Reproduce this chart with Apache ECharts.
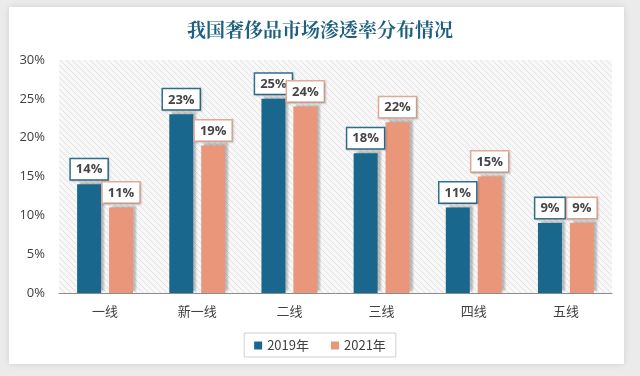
<!DOCTYPE html>
<html><head><meta charset="utf-8">
<script src="https://cdn.jsdelivr.net/npm/echarts@6/dist/echarts.min.js"></script>
<style>html,body{margin:0;padding:0;background:#ebebeb;}#c{width:640px;height:376px;}</style>
</head><body><div id="c"></div>
<script>
var categories = ['一线','新一线','二线','三线','四线','五线'];
var s2019 = [14,23,25,18,11,9];
var s2021 = [11,19,24,22,15,9];
var yTicks = [0,5,10,15,20,25,30];

function hatch(bg, line, size){
  var c = document.createElement('canvas'); c.width=size; c.height=size;
  var g = c.getContext('2d');
  g.fillStyle=bg; g.fillRect(0,0,size,size);
  g.strokeStyle=line; g.lineWidth=1;
  g.beginPath();
  g.moveTo(0,0); g.lineTo(size,size);
  g.moveTo(-size,0); g.lineTo(size,size*2);
  g.moveTo(0,-size); g.lineTo(size*2,size);
  g.stroke();
  return c;
}
var chart = echarts.init(document.getElementById('c'));
var font = '"Noto Sans CJK SC", "Noto Sans", sans-serif';
function lbl(border){
  return {show:true, position:'top', distance:5, formatter:'{c}%', color:'#454545', fontSize:13, fontWeight:'bold', fontFamily:'"Open Sans", "Noto Sans", sans-serif',
    backgroundColor:'#fff', borderColor:border, borderWidth:1.5, padding:[4,5,3,5],
    shadowColor:'rgba(0,0,0,0.15)', shadowBlur:2, shadowOffsetX:1, shadowOffsetY:1};
}
chart.setOption({
  backgroundColor:'#ebebeb',
  animation:false,
  graphic:[{type:'rect', shape:{x:9,y:7,width:615,height:357}, style:{fill:'#fff', shadowColor:'rgba(0,0,0,0.12)', shadowBlur:6}, z:-10}],
  title:{text:'我国奢侈品市场渗透率分布情况', left:'center', top:15, textStyle:{color:'#1f5f80', fontSize:19, fontWeight:'bold', fontFamily:'"Noto Serif CJK SC", "Noto Sans CJK SC", serif'}},
  grid:{left:59, right:28, top:60, bottom:83, show:true, borderWidth:0, backgroundColor:{image:hatch('#f8f8f8','#e2e2e2',6), repeat:'repeat'}},
  legend:{bottom:19, left:'center', itemWidth:8, itemHeight:8, itemGap:22, icon:'rect', borderColor:'#d0d0d0', borderWidth:1, padding:[6,10,5,10],
    textStyle:{color:'#404040', fontSize:13, fontFamily:font}, data:['2019年','2021年']},
  xAxis:{type:'category', data:categories, axisLine:{lineStyle:{color:'#8c8c8c', width:1}}, axisTick:{show:false},
    axisLabel:{color:'#404040', fontSize:13, margin:12, fontFamily:font}},
  yAxis:{type:'value', min:0, max:30, interval:5, splitLine:{show:false}, axisLine:{show:false}, axisTick:{show:false},
    axisLabel:{color:'#404040', fontSize:13, margin:14, fontFamily:'"Open Sans", "Noto Sans", sans-serif', formatter:function(v){return yTicks.indexOf(v)>=0? v+'%':'';}}},
  series:[
    {name:'2019年', type:'bar', data:s2019, barWidth:24, barGap:'33%', itemStyle:{color:'#19678c', shadowColor:'rgba(0,0,0,0.25)', shadowBlur:2, shadowOffsetX:3, shadowOffsetY:-2}, label:lbl('#2f6f8f')},
    {name:'2021年', type:'bar', data:s2021, barWidth:24, barGap:'33%', itemStyle:{color:'#e9967a', shadowColor:'rgba(0,0,0,0.25)', shadowBlur:2, shadowOffsetX:3, shadowOffsetY:-2}, label:lbl('#e2ab97')}
  ]
});
</script></body></html>
